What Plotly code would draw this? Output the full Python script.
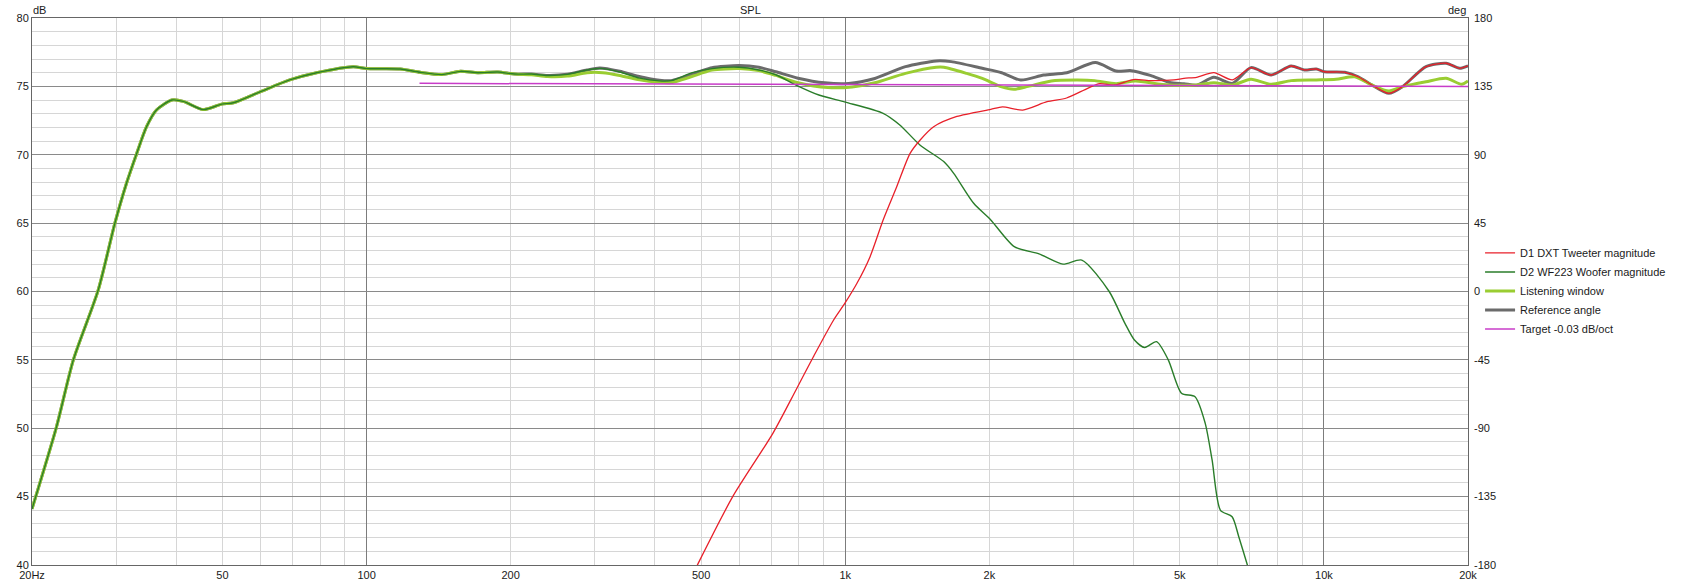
import plotly.graph_objects as go

# ---------------- data ----------------
# bass region shared by woofer, listening window and reference angle
bass_hz = [20, 22.5, 24.4, 27.5, 29.8, 31.5, 33.1, 34.7, 36.4, 39.2, 41.4, 45.6, 49.8,
           52.7, 59.9, 69.1, 78.6, 93.8, 100, 117.6, 129.4, 143.6, 157, 170.7, 188, 203.8]
bass_db = [44.1, 50.1, 55.0, 60.1, 65.0, 67.9, 70.1, 72.05, 73.27, 74.0, 73.9, 73.3, 73.7,
           73.8, 74.6, 75.47, 76.0, 76.44, 76.3, 76.27, 76.03, 75.86, 76.1, 76.0, 76.05, 75.9]

woofer_hz = [221, 238.8, 262.7, 288.8, 311.5, 338, 372, 409, 433, 479, 527, 599, 660, 716, 789,
             881, 1000, 1200, 1300, 1434, 1606, 1685, 1855, 2014, 2255, 2540, 2850, 3120, 3560,
             3840, 4020, 4220, 4470, 4730, 5040, 5380, 5650, 5840, 6080, 6430, 6640, 6920, 7150]
woofer_db = [75.9, 75.8, 75.88, 76.2, 76.3, 76.05, 75.6, 75.4, 75.42, 76.0, 76.3, 76.4, 76.2, 75.85,
             75.1, 74.37, 73.85, 73.03, 72.18, 70.7, 69.5, 68.64, 66.45, 65.23, 63.28, 62.75, 62.0,
             62.3, 60.0, 57.67, 56.45, 55.9, 56.33, 55.0, 52.56, 52.3, 50.36, 47.68, 44.0, 43.53,
             42.07, 40.0, 38.3]

tweeter_hz = [465, 491, 582, 706, 789, 858, 945, 1000, 1058, 1127, 1200, 1281, 1366, 1434, 1530,
              1711, 2014, 2131, 2349, 2640, 2900, 3210, 3400, 3650, 4000, 4360, 4860, 5100, 5420,
              5890, 6440, 7040, 7760, 8540, 9100, 9640, 10030, 11060, 11800, 12600, 13670, 14590,
              16340, 18000, 19200, 20000]
tweeter_db = [38.3, 40.0, 45.0, 49.63, 52.8, 55.23, 57.9, 59.18, 60.6, 62.55, 65.23, 67.66, 70.1,
              71.08, 72.05, 72.8, 73.32, 73.5, 73.27, 73.88, 74.15, 74.86, 75.2, 75.1, 75.5, 75.42,
              75.47, 75.59, 75.66, 76.0, 75.47, 76.37, 75.83, 76.49, 76.2, 76.27, 76.07, 76.03,
              75.7, 75.1, 74.49, 74.98, 76.44, 76.69, 76.32, 76.5]

lw_hz = [221, 238.8, 262.7, 288.8, 311.5, 338, 369, 409, 433, 495, 527, 600, 660, 716, 797, 920,
         1034, 1153, 1336, 1549, 1607, 1793, 1933, 2122, 2250, 2410, 2694, 3042, 3320, 3680, 4040,
         4600, 5420, 5890, 6440, 7040, 7760, 8540, 9640, 10600, 11600, 12600, 13670, 14590, 16340,
         18000, 19400, 20000]
lw_db = [75.85, 75.72, 75.75, 76.0, 76.0, 75.8, 75.5, 75.3, 75.28, 75.9, 76.2, 76.3, 76.15, 75.8,
         75.26, 74.91, 74.96, 75.26, 75.95, 76.4, 76.4, 75.95, 75.58, 74.96, 74.79, 75.0, 75.4,
         75.46, 75.42, 75.2, 75.4, 75.14, 75.1, 75.27, 75.1, 75.52, 75.15, 75.42, 75.47, 75.52,
         75.7, 75.1, 74.66, 74.98, 75.34, 75.59, 75.15, 75.39]

ref_hz = [221, 238.8, 262.7, 288.8, 307, 338, 369, 409, 433, 495, 527, 600, 660, 716, 797, 906,
          1016, 1153, 1336, 1549, 1665, 1933, 2122, 2326, 2598, 2903, 3330, 3680, 3960, 4340, 4760,
          5100, 5420, 5890, 6440, 7040, 7760, 8540, 9100, 9640, 10030, 11060, 11800, 12600, 13670,
          14590, 16340, 18000, 19200, 20000]
ref_db = [75.9, 75.8, 75.88, 76.2, 76.34, 76.1, 75.75, 75.45, 75.42, 76.07, 76.37, 76.52, 76.4,
          76.07, 75.6, 75.26, 75.21, 75.58, 76.44, 76.86, 76.81, 76.32, 76.0, 75.46, 75.83, 76.0,
          76.74, 76.12, 76.15, 75.8, 75.28, 75.2, 75.09, 75.66, 75.22, 76.37, 75.83, 76.49, 76.2,
          76.27, 76.07, 76.03, 75.7, 75.1, 74.49, 74.98, 76.44, 76.69, 76.32, 76.5]

target_hz = [129, 20000]
target_db = [75.22, 75.0]

x_tick_vals = [20, 50, 100, 200, 500, 1000, 2000, 5000, 10000, 20000]
x_tick_text = ["20Hz", "50", "100", "200", "500", "1k", "2k", "5k", "10k", "20k"]
y_tick_vals = [40, 45, 50, 55, 60, 65, 70, 75, 80]
deg_tick_vals = [-180, -135, -90, -45, 0, 45, 90, 135, 180]
deg_tick_text = ["-180", "-135", "-90", "-45", "0", "45", "90", "135", "180"]

# ---------------- figure ----------------
FONT = "Liberation Sans, Arial, sans-serif"
FS = 11
fig = go.Figure()

spl = dict(shape="spline", smoothing=0.7)

fig.add_trace(go.Scatter(x=bass_hz + ref_hz, y=bass_db + ref_db, mode="lines",
                         name="Reference angle", legendrank=4,
                         line=dict(color="#6b6b6b", width=3, **spl)))
fig.add_trace(go.Scatter(x=bass_hz + lw_hz, y=bass_db + lw_db, mode="lines",
                         name="Listening window", legendrank=3,
                         line=dict(color="#9acd32", width=3, **spl)))
fig.add_trace(go.Scatter(x=bass_hz + woofer_hz, y=bass_db + woofer_db, mode="lines",
                         name="D2 WF223 Woofer magnitude", legendrank=2,
                         line=dict(color="#2a7d2a", width=1.4, **spl)))
fig.add_trace(go.Scatter(x=tweeter_hz, y=tweeter_db, mode="lines",
                         name="D1 DXT Tweeter magnitude", legendrank=1,
                         line=dict(color="#e8202a", width=1.3, **spl)))
fig.add_trace(go.Scatter(x=target_hz, y=target_db, mode="lines",
                         name="Target -0.03 dB/oct", legendrank=5,
                         line=dict(color="#c83cc8", width=1.5)))
# empty carrier so the labelled frequency axis and the degree axis are drawn
fig.add_trace(go.Scatter(x=[], y=[], xaxis="x2", yaxis="y2", showlegend=False,
                         hoverinfo="skip"))

minor_x = [k * d for d in (10, 100, 1000, 10000) for k in range(2, 10) if 20 <= k * d <= 20000]

fig.update_layout(
    width=1681, height=583,
    margin=dict(l=32, r=213, t=18, b=18, autoexpand=False),
    paper_bgcolor="white", plot_bgcolor="white",
    font=dict(family=FONT, size=FS, color="#1a1a1a"),
    showlegend=True,
    legend=dict(x=1.0084, xanchor="left", y=0.501, yanchor="middle",
                bgcolor="rgba(0,0,0,0)", font=dict(size=FS, family=FONT),
                itemwidth=30, tracegroupgap=0),
    xaxis=dict(type="log", range=[1.30103, 4.30103], automargin=False,
               tickvals=[100, 1000, 10000], showticklabels=False, ticks="",
               showgrid=True, gridcolor="#7c7c7c", gridwidth=1,
               minor=dict(tickvals=minor_x, showgrid=True, gridcolor="#d6d6d6", ticks=""),
               showline=True, linecolor="#666666", linewidth=1, mirror=True,
               zeroline=False),
    xaxis2=dict(type="log", range=[1.30103, 4.30103], overlaying="x", anchor="y2", side="bottom",
                automargin=False, tickvals=x_tick_vals, ticktext=x_tick_text, ticks="",
                ticklabelstandoff=2,
                showgrid=False, zeroline=False, tickfont=dict(size=FS)),
    yaxis=dict(range=[40, 80], tickvals=y_tick_vals, ticks="", automargin=False,
               showgrid=True, gridcolor="#8a8a8a", gridwidth=1,
               minor=dict(dtick=1, showgrid=True, gridcolor="#d6d6d6", ticks=""),
               showline=True, linecolor="#666666", linewidth=1, mirror=True,
               zeroline=False, tickfont=dict(size=FS)),
    yaxis2=dict(range=[-180, 180], overlaying="y", side="right", anchor="x2", automargin=False,
                tickvals=deg_tick_vals, ticktext=deg_tick_text, ticks="",
                ticklabelstandoff=5,
                showgrid=False, zeroline=False, tickfont=dict(size=FS)),
    annotations=[
        dict(text="SPL", xref="paper", yref="paper", x=0.5, y=1, xanchor="center",
             yanchor="bottom", showarrow=False, font=dict(size=FS)),
        dict(text="dB", xref="paper", yref="paper", x=0, y=1, xanchor="left", xshift=-1,
             yanchor="bottom", showarrow=False, font=dict(size=FS)),
        dict(text="deg", xref="paper", yref="paper", x=1, y=1, xanchor="right", xshift=0,
             yanchor="bottom", showarrow=False, font=dict(size=FS)),
    ],
)

fig.write_html("out.html", config={"displayModeBar": False},
               post_script="document.body.style.margin='0';document.body.style.padding='0';")
